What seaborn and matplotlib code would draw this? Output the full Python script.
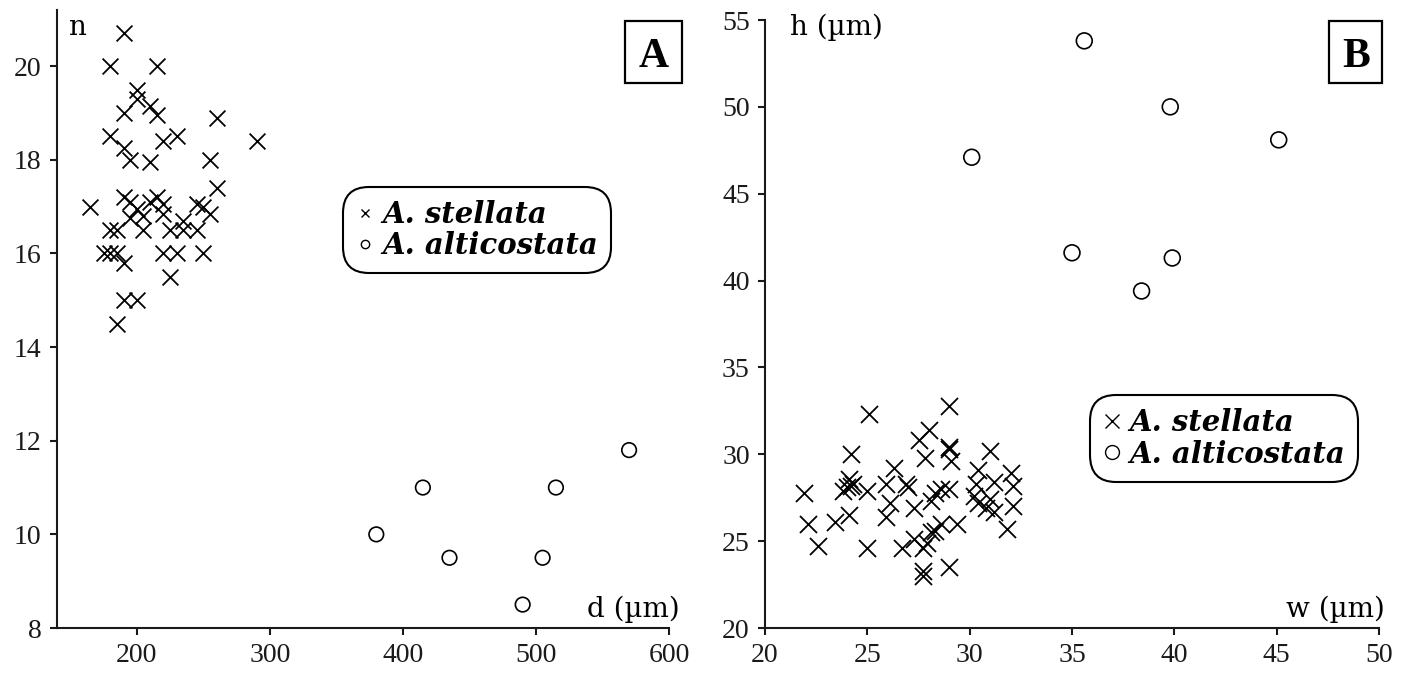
import numpy as np
import pandas as pd
import matplotlib
matplotlib.use("Agg")
import matplotlib.pyplot as plt
import seaborn as sns
from matplotlib.lines import Line2D
from matplotlib.patches import Rectangle

# ---------------- data ----------------
A_stellata_d = [190, 180, 215, 200, 200, 210, 215, 190, 260, 180, 220, 230, 290, 190, 195,
                210, 255, 260, 165, 190, 195, 210, 215, 220, 200, 220, 245, 250, 255, 195,
                205, 180, 185, 205, 235, 225, 235, 245, 175, 180, 185, 190, 220, 230, 250,
                225, 190, 200, 185]
A_stellata_n = [20.7, 20.0, 20.0, 19.5, 19.3, 19.15, 18.95, 19.0, 18.9, 18.5, 18.4, 18.5, 18.4,
                18.25, 18.0, 17.95, 18.0, 17.4, 17.0, 17.2, 17.1, 17.1, 17.2, 17.05, 16.95,
                16.85, 17.05, 17.0, 16.85, 16.75, 16.8, 16.5, 16.5, 16.5, 16.7, 16.5, 16.5,
                16.5, 16.0, 16.0, 16.0, 15.8, 16.0, 16.0, 16.0, 15.5, 15.0, 15.0, 14.5]
A_alticostata_d = [380, 415, 435, 505, 515, 490, 570]
A_alticostata_n = [10.0, 11.0, 9.5, 9.5, 11.0, 8.5, 11.8]

B_stellata_w = [21.9, 22.1, 22.6, 23.4, 24.1, 24.2, 24.1, 24.0, 24.2, 24.3, 23.8, 25.0, 25.1,
                25.0, 26.3, 25.9, 26.1, 25.9, 26.9, 27.0, 26.7, 27.3, 27.5, 28.0, 27.8, 28.1,
                28.3, 28.6, 29.0, 27.3, 27.7, 28.1, 28.3, 28.6, 27.9, 27.7, 27.7, 29.0, 29.0,
                29.0, 29.1, 29.4, 29.0, 30.4, 30.3, 30.2, 30.4, 31.0, 31.2, 31.0, 30.8, 31.2,
                31.8, 32.0, 32.1, 32.1]
B_stellata_h = [27.8, 26.0, 24.7, 26.1, 26.5, 30.0, 28.6, 28.1, 28.2, 28.3, 27.9, 27.9, 32.3,
                24.6, 29.2, 28.3, 27.2, 26.4, 28.3, 28.1, 24.6, 26.9, 30.8, 31.4, 29.8, 27.3,
                27.8, 28.0, 28.0, 25.1, 24.6, 25.5, 25.6, 26.0, 24.9, 23.3, 23.0, 32.8, 30.4,
                30.3, 29.6, 26.0, 23.5, 29.1, 28.3, 27.6, 27.2, 30.2, 28.4, 27.4, 26.9, 26.7,
                25.7, 28.9, 28.2, 27.0]
B_alticostata_w = [35.6, 39.8, 45.1, 35.0, 39.9, 38.4, 30.1]
B_alticostata_h = [53.8, 50.0, 48.1, 41.6, 41.3, 39.4, 47.1]

species_names = ["A. stellata", "A. alticostata"]
A_xticks = [200, 300, 400, 500, 600]
A_yticks = [8, 10, 12, 14, 16, 18, 20]
B_xticks = [20, 25, 30, 35, 40, 45, 50]
B_yticks = [20, 25, 30, 35, 40, 45, 50, 55]

dfA_s = pd.DataFrame({"x": A_stellata_d, "y": A_stellata_n})
dfA_a = pd.DataFrame({"x": A_alticostata_d, "y": A_alticostata_n})
dfB_s = pd.DataFrame({"x": B_stellata_w, "y": B_stellata_h})
dfB_a = pd.DataFrame({"x": B_alticostata_w, "y": B_alticostata_h})

# ---------------- style ----------------
sns.set_style("ticks")
plt.rcParams["font.family"] = ["Liberation Serif", "DejaVu Serif"]
plt.rcParams["axes.linewidth"] = 1.5
plt.rcParams["axes.edgecolor"] = "#1a1a1a"
plt.rcParams["text.color"] = "black"
plt.rcParams["xtick.major.width"] = 1.5
plt.rcParams["ytick.major.width"] = 1.5
plt.rcParams["xtick.major.size"] = 5
plt.rcParams["ytick.major.size"] = 5
plt.rcParams["xtick.color"] = "#1a1a1a"
plt.rcParams["ytick.color"] = "#1a1a1a"

fig = plt.figure(figsize=(14.02, 6.77), dpi=100)
W, H = 1402, 677
axA = fig.add_axes([57 / W, (677 - 628) / H, 612 / W, 618 / H])
axB = fig.add_axes([765 / W, (677 - 628) / H, 614 / W, 608 / H])

TICKFS = 20
LABFS = 20
LEGFS = 21
LABFAM = ["DejaVu Serif"]


def draw(ax, df_s, df_a, ms_x, ms_o):
    sns.scatterplot(data=df_s, x="x", y="y", ax=ax, marker="x", color="black",
                    s=ms_x, linewidth=1.3, legend=False, zorder=3)
    sns.scatterplot(data=df_a, x="x", y="y", ax=ax, marker="o", color="black",
                    s=ms_o, linewidth=1.2, legend=False, zorder=3)
    ax.collections[-1].set_facecolor("none")
    ax.collections[-1].set_edgecolor("black")
    sns.despine(ax=ax)
    ax.set_xlabel("")
    ax.set_ylabel("")
    ax.tick_params(labelsize=TICKFS, direction="out", pad=6)


draw(axA, dfA_s, dfA_a, 130, 110)
draw(axB, dfB_s, dfB_a, 150, 130)

axA.set_xlim(140, 600)
axA.set_ylim(8, 21.2)
axA.set_xticks(A_xticks)
axA.set_yticks(A_yticks)
axB.set_xlim(20, 50)
axB.set_ylim(20, 55)
axB.set_xticks(B_xticks)
axB.set_yticks(B_yticks)

# axis labels placed inside the axes like the reference
axA.text(0.018, 0.96, "n", transform=axA.transAxes, fontsize=LABFS, family=LABFAM,
         va="baseline", ha="left")
axA.text(1.018, 0.018, "d (µm)", transform=axA.transAxes, fontsize=LABFS, family=LABFAM,
         va="baseline", ha="right")
axB.text(0.04, 0.975, "h (µm)", transform=axB.transAxes, fontsize=LABFS, family=LABFAM,
         va="baseline", ha="left")
axB.text(1.01, 0.018, "w (µm)", transform=axB.transAxes, fontsize=LABFS, family=LABFAM,
         va="baseline", ha="right")

# panel letters with boxes
for ax, (x0, x1, y0, y1), letter in [
    (axA, (0.928, 1.021, 0.882, 0.982), "A"),
    (axB, (0.919, 1.005, 0.896, 0.998), "B"),
]:
    ax.add_patch(Rectangle((x0, y0), x1 - x0, y1 - y0, transform=ax.transAxes,
                           fill=False, lw=1.6, ec="black", clip_on=False, zorder=5))
    ax.text((x0 + x1) / 2, (y0 + y1) / 2, letter, transform=ax.transAxes,
            fontsize=30, fontweight="bold", ha="center", va="center_baseline")


def legend(ax, anchor, msx, mso):
    handles = [
        Line2D([], [], marker="x", color="black", ls="none", markersize=msx, mew=1.0),
        Line2D([], [], marker="o", color="black", mfc="none", ls="none", markersize=mso, mew=1.0),
    ]
    leg = ax.legend(handles, species_names, loc="upper left", bbox_to_anchor=anchor,
                    bbox_transform=ax.transAxes, frameon=True, fancybox=True,
                    prop={"family": ["DejaVu Serif"], "style": "italic",
                          "weight": "bold", "size": LEGFS},
                    handlelength=0.6, handletextpad=0.3, borderpad=0.45,
                    labelspacing=0.08, borderaxespad=0.0, labelcolor="black")
    fr = leg.get_frame()
    fr.set_edgecolor("black")
    fr.set_linewidth(1.5)
    fr.set_alpha(1)
    fr.set_boxstyle("round,pad=0.0,rounding_size=0.9")
    return leg


legend(axA, (0.467, 0.714), 6, 6)
legend(axB, (0.529, 0.383), 10, 10)

fig.savefig("out.png", dpi=100)
